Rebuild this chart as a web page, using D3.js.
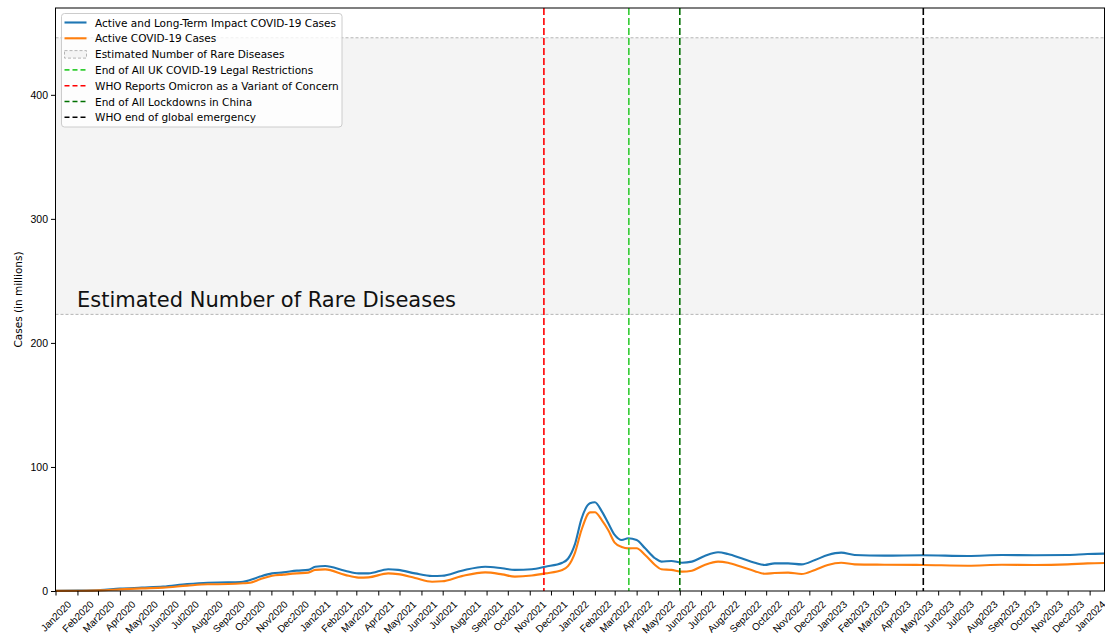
<!DOCTYPE html>
<html>
<head>
<meta charset="utf-8">
<script src="https://cdn.jsdelivr.net/npm/d3@7"></script>
<style>
  body { margin: 0; background: #fff; }
  svg { font-family: "DejaVu Sans", sans-serif; }
</style>
</head>
<body>
<svg id="chart" width="1105" height="644"></svg>
<script>
// values, cases in millions
const dates = [
  "2020-01-01","2020-02-01","2020-03-04","2020-04-01","2020-05-02","2020-06-01","2020-07-05",
  "2020-08-03","2020-09-01","2020-09-22","2020-10-02","2020-10-16","2020-11-02","2020-11-18",
  "2020-12-07","2020-12-23","2021-01-02","2021-01-16","2021-02-13","2021-03-04","2021-03-18",
  "2021-04-15","2021-04-29","2021-05-23","2021-06-16","2021-06-30","2021-07-28","2021-08-30",
  "2021-09-23","2021-10-11","2021-11-04","2021-11-23","2021-12-17","2021-12-25","2022-01-04",
  "2022-01-13","2022-01-25","2022-02-01","2022-02-11","2022-02-20","2022-03-01","2022-03-11",
  "2022-03-20","2022-04-01","2022-04-13","2022-04-27","2022-05-06","2022-05-20","2022-06-04",
  "2022-06-18","2022-07-06","2022-07-25","2022-08-08","2022-08-27","2022-09-15","2022-09-29",
  "2022-10-13","2022-11-01","2022-11-20","2022-12-09","2022-12-27","2023-01-15","2023-02-03",
  "2023-03-17","2023-05-10","2023-07-13","2023-08-30","2023-10-15","2023-12-01","2023-12-29",
  "2024-01-22"
];
const longTerm = [
  0.1, 0.3, 0.8, 1.9, 2.7, 3.5, 5.6,
  6.7, 7.0, 7.5, 8.9, 11.6, 14.2, 15.0,
  16.4, 17.0, 19.6, 20.2, 16.4, 14.2, 14.2,
  17.5, 17.0, 14.2, 12.1, 12.3, 16.4, 19.6,
  18.3, 17.0, 17.5, 19.6, 22.8, 26.0, 38.0,
  58.0, 70.7, 71.5, 64.0, 54.6, 45.2, 41.1,
  42.5, 41.1, 34.4, 26.4, 23.7, 24.2, 22.8,
  23.7, 28.2, 31.2, 29.8, 26.4, 22.8, 21.0,
  22.3, 22.3, 21.5, 25.0, 29.0, 30.9, 29.0,
  28.5, 28.8, 28.2, 29.0, 28.8, 29.0, 29.8,
  30.1
];
const active = [
  0.1, 0.2, 0.5, 1.3, 2.1, 2.7, 4.3,
  5.4, 5.6, 6.2, 6.7, 9.4, 12.3, 13.2,
  14.2, 14.8, 17.0, 17.4, 13.0, 10.8, 11.0,
  14.2, 13.6, 10.5, 7.5, 7.8, 12.0, 15.0,
  13.4, 11.6, 12.5, 14.2, 17.0, 20.0, 31.0,
  49.0, 63.4, 63.5, 57.0, 49.0, 39.0, 35.5,
  34.4, 34.5, 29.0, 21.0, 17.5, 17.0, 15.6,
  16.4, 21.0, 23.7, 22.8, 19.5, 16.0, 13.9,
  14.5, 14.8, 13.7, 17.0, 21.0, 22.8, 21.5,
  21.2, 21.0, 20.4, 21.2, 21.0, 21.5, 22.3,
  22.6
];
const rareBand = [223, 446];
const bandLabel = "Estimated Number of Rare Diseases";
const events = [
  { date: "2022-03-21", label: "End of All UK COVID-19 Legal Restrictions", color: "#32cd32" },
  { date: "2021-11-21", label: "WHO Reports Omicron as a Variant of Concern", color: "#ff0000" },
  { date: "2022-06-01", label: "End of All Lockdowns in China", color: "#007000" },
  { date: "2023-05-11", label: "WHO end of global emergency", color: "#000000" }
];
const yTicks = [0, 100, 200, 300, 400];

const parse = d3.utcParse("%Y-%m-%d");
const svg = d3.select("#chart");
const mLeft = 55.5, mRight = 1104.5, mTop = 8, mBottom = 591;

const x = d3.scaleUtc()
  .domain([parse("2020-01-01"), parse("2024-01-22")])
  .range([mLeft, mRight]);
const y = d3.scaleLinear().domain([0, 470]).range([mBottom, mTop]);

const rows = dates.map((d, i) => ({ date: parse(d), a: longTerm[i], b: active[i] }));

// rare disease band
svg.append("rect")
  .attr("x", mLeft).attr("width", mRight - mLeft)
  .attr("y", y(rareBand[1])).attr("height", y(rareBand[0]) - y(rareBand[1]))
  .attr("fill", "#f4f4f4");
rareBand.forEach(v => {
  svg.append("line")
    .attr("x1", mLeft).attr("x2", mRight)
    .attr("y1", y(v)).attr("y2", y(v))
    .attr("stroke", "#b4b4b4").attr("stroke-width", 1)
    .attr("stroke-dasharray", "3,2");
});
svg.append("text")
  .attr("x", 77).attr("y", 307)
  .attr("font-size", 21).attr("fill", "#111")
  .text(bandLabel);

// lines
const line = key => d3.line()
  .x(d => x(d.date)).y(d => y(d[key]))
  .curve(d3.curveMonotoneX);

svg.append("path").datum(rows)
  .attr("d", line("a")).attr("fill", "none")
  .attr("stroke", "#1f77b4").attr("stroke-width", 2.1);
svg.append("path").datum(rows)
  .attr("d", line("b")).attr("fill", "none")
  .attr("stroke", "#ff7f0e").attr("stroke-width", 2.1);

// event lines
events.forEach(e => {
  svg.append("line")
    .attr("x1", x(parse(e.date))).attr("x2", x(parse(e.date)))
    .attr("y1", mTop).attr("y2", mBottom)
    .attr("stroke", e.color).attr("stroke-width", 1.6)
    .attr("stroke-dasharray", "7,3");
});

// axes
const xAxis = svg.append("g")
  .attr("transform", `translate(0,${mBottom})`)
  .call(d3.axisBottom(x)
    .tickValues(d3.utcMonth.range(parse("2020-01-01"), parse("2024-01-02")))
    .tickFormat(d3.utcFormat("%b%Y"))
    .tickSize(4.5).tickSizeOuter(0));
xAxis.select(".domain").remove();
xAxis.selectAll("text")
  .attr("font-size", 10).attr("fill", "#000")
  .attr("text-anchor", "middle").attr("dy", null).attr("y", null)
  .attr("dominant-baseline", "central")
  .attr("transform", function () {
    const w = this.getComputedTextLength();
    return `translate(0,${8 + (w + 10) * 0.3536}) rotate(-45)`;
  });

const yAxis = svg.append("g")
  .attr("transform", `translate(${mLeft},0)`)
  .call(d3.axisLeft(y).tickValues(yTicks).tickSize(4.5).tickSizeOuter(0));
yAxis.select(".domain").remove();
yAxis.selectAll("text").attr("font-size", 10.5).attr("fill", "#000");

svg.append("rect")
  .attr("x", mLeft).attr("y", mTop)
  .attr("width", mRight - mLeft).attr("height", mBottom - mTop)
  .attr("fill", "none").attr("stroke", "#000").attr("stroke-width", 1);

svg.append("text")
  .attr("transform", `translate(18,${(mTop + mBottom) / 2}) rotate(-90)`)
  .attr("text-anchor", "middle").attr("dominant-baseline", "central")
  .attr("font-size", 10.5)
  .text("Cases (in millions)");

// legend
const legend = svg.append("g").attr("transform", "translate(61.5,13.5)");
legend.append("rect")
  .attr("width", 280.5).attr("height", 113.5).attr("rx", 3)
  .attr("fill", "#fff").attr("fill-opacity", 0.8)
  .attr("stroke", "#cccccc");
const items = [
  { label: "Active and Long-Term Impact COVID-19 Cases", color: "#1f77b4", kind: "line" },
  { label: "Active COVID-19 Cases", color: "#ff7f0e", kind: "line" },
  { label: bandLabel, color: "#b4b4b4", kind: "patch" }
].concat(events.map(e => ({ label: e.label, color: e.color, kind: "dash" })));

items.forEach((it, i) => {
  const cy = 9 + i * 15.8;
  if (it.kind === "patch") {
    legend.append("rect")
      .attr("x", 3).attr("y", cy - 3.5).attr("width", 22).attr("height", 7.5)
      .attr("fill", "#f4f4f4").attr("stroke", it.color)
      .attr("stroke-width", 1).attr("stroke-dasharray", "3,2");
  } else {
    legend.append("line")
      .attr("x1", 3).attr("x2", 25).attr("y1", cy).attr("y2", cy)
      .attr("stroke", it.color).attr("stroke-width", it.kind === "line" ? 2.1 : 1.6)
      .attr("stroke-dasharray", it.kind === "dash" ? "5,3" : null);
  }
  legend.append("text")
    .attr("x", 33.5).attr("y", cy)
    .attr("dominant-baseline", "central")
    .attr("font-size", 10.5).attr("fill", "#000")
    .text(it.label);
});
</script>
</body>
</html>
